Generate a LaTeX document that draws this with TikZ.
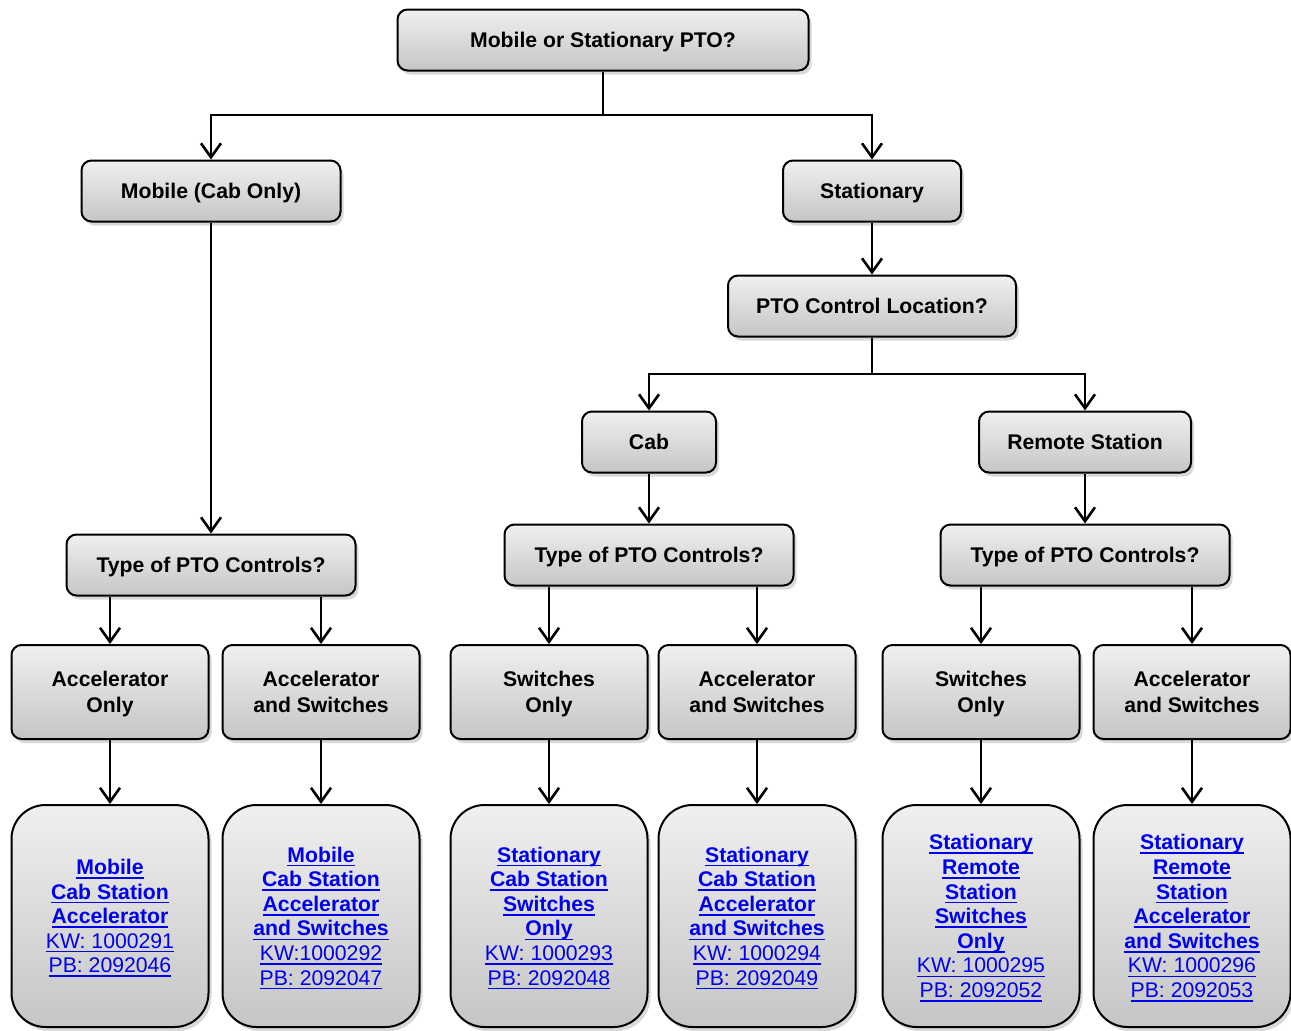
\documentclass[tikz,border=0pt]{standalone}
\usepackage{fontspec}
\setmainfont{Liberation Sans}
\usetikzlibrary{positioning,arrows.meta,shadows}
\definecolor{linkblue}{RGB}{0,0,238}
\newsavebox\lnkbox
\newcommand{\lnk}[1]{\sbox\lnkbox{#1}\rlap{\rule[-2.1pt]{\wd\lnkbox}{0.8pt}}\usebox\lnkbox}
\newcommand{\lnkb}[1]{\lnk{\textbf{#1}}}

\begin{document}
\begin{tikzpicture}[x=0.5pt,y=-0.5pt,
			box/.style={draw,rounded corners=5pt,line width=1pt,top color=gray!12,bottom color=gray!45,
				drop shadow={shadow xshift=1.5pt,shadow yshift=-2pt,opacity=0.3},
				minimum height=30.5pt,inner sep=0pt,text depth=0pt,align=center,
				font=\fontsize{10.6}{13}\selectfont\bfseries},
			pick/.style={box,minimum width=98.5pt,minimum height=47pt},
			kit/.style={box,rounded corners=17pt,minimum width=98.5pt,minimum height=111pt,
				text=linkblue,font=\fontsize{10.6}{12.3}\selectfont},
			arr/.style={-{Straight Barb[length=7pt,width=10pt]},line width=1.3pt}]
			\useasboundingbox (0,0) rectangle (1291,1030);
			% questions
			\node (pto) [box,minimum width=205.5pt] at (603,40) {Mobile or Stationary PTO?};
			\node (mob) [box,minimum width=129.5pt] at (211,191) {Mobile (Cab Only)};
			\node (stat) [box,minimum width=89pt] at (872,191) {Stationary};
			\node (loc) [box,minimum width=144pt] at (872,306) {PTO Control Location?};
			\node (cab) [box,minimum width=67pt] at (649,442) {Cab};
			\node (rem) [box,minimum width=106pt] at (1085,442) {Remote Station};
			\node (typm) [box,minimum width=144.5pt] at (211,565) {Type of PTO Controls?};
			\node (typc) [box,minimum width=144.5pt] at (649,555) {Type of PTO Controls?};
			\node (typr) [box,minimum width=144.5pt] at (1085,555) {Type of PTO Controls?};
			% control choices
			\node (accm) [pick] at (110,692) {Accelerator\\Only};
			\node (aswm) [pick] at (321,692) {Accelerator\\and Switches};
			\node (swc) [pick] at (549,692) {Switches\\Only};
			\node (aswc) [pick] at (757,692) {Accelerator\\and Switches};
			\node (swr) [pick] at (981,692) {Switches\\Only};
			\node (aswr) [pick] at (1192,692) {Accelerator\\and Switches};
			% kits
			\node (kaccm) [kit] at (110,916) {\lnkb{Mobile}\\\lnkb{Cab Station}\\\lnkb{Accelerator}\\
				\lnk{KW: 1000291}\\\lnk{PB: 2092046}};
			\node (kaswm) [kit] at (321,916) {\lnkb{Mobile}\\\lnkb{Cab Station}\\\lnkb{Accelerator}\\
				\lnkb{and Switches}\\\lnk{KW:1000292}\\\lnk{PB: 2092047}};
			\node (kswc) [kit] at (549,916) {\lnkb{Stationary}\\\lnkb{Cab Station}\\\lnkb{Switches}\\
				\lnkb{Only}\\\lnk{KW: 1000293}\\\lnk{PB: 2092048}};
			\node (kaswc) [kit] at (757,916) {\lnkb{Stationary}\\\lnkb{Cab Station}\\\lnkb{Accelerator}\\
				\lnkb{and Switches}\\\lnk{KW: 1000294}\\\lnk{PB: 2092049}};
			\node (kswr) [kit] at (981,916) {\lnkb{Stationary}\\\lnkb{Remote}\\\lnkb{Station}\\
				\lnkb{Switches}\\\lnkb{Only}\\\lnk{KW: 1000295}\\\lnk{PB: 2092052}};
			\node (kaswr) [kit] at (1192,916) {\lnkb{Stationary}\\\lnkb{Remote}\\\lnkb{Station}\\
				\lnkb{Accelerator}\\\lnkb{and Switches}\\\lnk{KW: 1000296}\\\lnk{PB: 2092053}};
			% connectors
			\coordinate (sp1) at (603,115);
			\coordinate (sp2) at (872,374);
			\draw[arr] (pto.south) -- (sp1) -| (mob.north);
			\draw[arr] (sp1) -| (stat.north);
			\draw[arr] (mob) -- (typm);
			\draw[arr] (stat) -- (loc);
			\draw[arr] (loc.south) -- (sp2) -| (cab.north);
			\draw[arr] (sp2) -| (rem.north);
			\draw[arr] (cab) -- (typc);
			\draw[arr] (rem) -- (typr);
			\draw[arr] (accm.north |- typm.south) -- (accm.north);
			\draw[arr] (aswm.north |- typm.south) -- (aswm.north);
			\draw[arr] (swc.north |- typc.south) -- (swc.north);
			\draw[arr] (aswc.north |- typc.south) -- (aswc.north);
			\draw[arr] (swr.north |- typr.south) -- (swr.north);
			\draw[arr] (aswr.north |- typr.south) -- (aswr.north);
			\draw[arr] (accm) -- (kaccm);
			\draw[arr] (aswm) -- (kaswm);
			\draw[arr] (swc) -- (kswc);
			\draw[arr] (aswc) -- (kaswc);
			\draw[arr] (swr) -- (kswr);
			\draw[arr] (aswr) -- (kaswr);
		\end{tikzpicture}
\end{document}
